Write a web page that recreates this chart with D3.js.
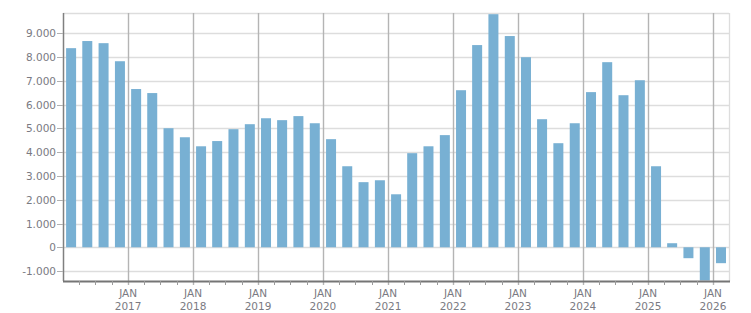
<!DOCTYPE html>
<html>
<head>
<meta charset="utf-8">
<script src="https://cdn.jsdelivr.net/npm/d3@7"></script>
<style>
  html, body { margin: 0; padding: 0; background: #fff; }
  svg { display: block; font-family: "DejaVu Sans", Verdana, sans-serif; }
</style>
</head>
<body>
<svg id="chart" width="751" height="313"></svg>
<script>
// quarterly bars, Q1 2016 .. Q1 2026
const quarters = [
  '2016-01', '2016-04', '2016-07', '2016-10',
  '2017-01', '2017-04', '2017-07', '2017-10',
  '2018-01', '2018-04', '2018-07', '2018-10',
  '2019-01', '2019-04', '2019-07', '2019-10',
  '2020-01', '2020-04', '2020-07', '2020-10',
  '2021-01', '2021-04', '2021-07', '2021-10',
  '2022-01', '2022-04', '2022-07', '2022-10',
  '2023-01', '2023-04', '2023-07', '2023-10',
  '2024-01', '2024-04', '2024-07', '2024-10',
  '2025-01', '2025-04', '2025-07', '2025-10',
  '2026-01'
];
const values = [
  8380, 8680, 8590, 7830,
  6660, 6490, 5010, 4630,
  4250, 4470, 4970, 5180,
  5430, 5350, 5520, 5220,
  4550, 3410, 2740, 2820,
  2230, 3960, 4250, 4720,
  6610, 8510, 9810, 8890,
  8000, 5390, 4380, 5220,
  6530, 7790, 6400, 7030,
  3410, 170, -460, -1400,
  -670
];
const yTicks = [-1000, 0, 1000, 2000, 3000, 4000, 5000, 6000, 7000, 8000, 9000];
const yearTicks = [2017, 2018, 2019, 2020, 2021, 2022, 2023, 2024, 2025, 2026];
const xLabelTop = 'JAN';

(function() {
    const svg = d3.select('#chart');
    const margin = { top: 13, right: 22, bottom: 32, left: 63 };
    const width = 751, height = 313;
    const x0 = margin.left, x1 = width - margin.right;
    const y0 = margin.top, y1 = height - margin.bottom;

    const parse = d3.timeParse('%Y-%m');
    const xScale = d3.scaleTime()
        .domain([new Date(2016, 0, 1), new Date(2026, 3, 1)])
        .range([x0, x1]);
    const yScale = d3.scaleLinear()
        .domain([-1420, 9860])
        .range([y1, y0]);

    const locale = d3.formatLocale({ decimal: ',', thousands: '.', grouping: [3], currency: ['', ''], minus: '-' });
    const fmt = locale.format(',');

    const labelColor = '#7a7a82';

    // horizontal grid
    svg.append('g')
        .selectAll('line')
        .data(yTicks)
        .enter().append('line')
        .attr('x1', x0).attr('x2', x1)
        .attr('y1', d => Math.round(yScale(d)) + 0.5)
        .attr('y2', d => Math.round(yScale(d)) + 0.5)
        .attr('stroke', '#dddddd')
        .attr('stroke-width', 1.3);

    // top and right border
    svg.append('line')
        .attr('x1', x0).attr('x2', x1)
        .attr('y1', y0 + 0.5).attr('y2', y0 + 0.5)
        .attr('stroke', '#dddddd').attr('stroke-width', 1.3);
    svg.append('line')
        .attr('x1', x1 + 0.5).attr('x2', x1 + 0.5)
        .attr('y1', y0).attr('y2', y1)
        .attr('stroke', '#dddddd').attr('stroke-width', 1.3);

    // vertical year lines
    svg.append('g')
        .selectAll('line')
        .data(yearTicks)
        .enter().append('line')
        .attr('x1', d => Math.round(xScale(new Date(d, 0, 1))) + 0.5)
        .attr('x2', d => Math.round(xScale(new Date(d, 0, 1))) + 0.5)
        .attr('y1', y0).attr('y2', y1 + 4)
        .attr('stroke', '#b4b4b4')
        .attr('stroke-width', 1.4);

    // bars
    svg.append('g')
        .selectAll('rect')
        .data(quarters.map((q, i) => ({ q: parse(q), v: values[i] })))
        .enter().append('rect')
        .attr('x', d => {
            const next = d3.timeMonth.offset(d.q, 3);
            return (xScale(d.q) + xScale(next)) / 2 - 5;
        })
        .attr('width', 10)
        .attr('y', d => yScale(Math.max(0, d.v)))
        .attr('height', d => Math.abs(yScale(d.v) - yScale(0)))
        .attr('fill', '#78b0d3');

    // left axis
    svg.append('line')
        .attr('x1', x0 + 0.5).attr('x2', x0 + 0.5)
        .attr('y1', y0).attr('y2', y1)
        .attr('stroke', '#808080').attr('stroke-width', 1.5);
    const yt = svg.append('g');
    yt.selectAll('line')
        .data(yTicks)
        .enter().append('line')
        .attr('x1', x0 - 6).attr('x2', x0)
        .attr('y1', d => Math.round(yScale(d)) + 0.5)
        .attr('y2', d => Math.round(yScale(d)) + 0.5)
        .attr('stroke', '#b0b0b0');
    yt.selectAll('text')
        .data(yTicks)
        .enter().append('text')
        .attr('x', x0 - 7)
        .attr('y', d => yScale(d) + 4)
        .attr('text-anchor', 'end')
        .attr('font-size', '10.5px')
        .attr('fill', labelColor)
        .text(d => fmt(d));

    // bottom axis
    svg.append('line')
        .attr('x1', x0).attr('x2', x1 + 1)
        .attr('y1', y1 + 0.5).attr('y2', y1 + 0.5)
        .attr('stroke', '#757575').attr('stroke-width', 2.2);

    const minor = d3.timeMonth.every(3).range(new Date(2016, 3, 1), new Date(2026, 3, 1))
        .filter(d => d.getMonth() !== 0);
    svg.append('g')
        .selectAll('line')
        .data(minor)
        .enter().append('line')
        .attr('x1', d => Math.round(xScale(d)) + 0.5)
        .attr('x2', d => Math.round(xScale(d)) + 0.5)
        .attr('y1', y1).attr('y2', y1 + 4)
        .attr('stroke', '#9a9a9a');

    const xl = svg.append('g');
    xl.selectAll('text.m')
        .data(yearTicks)
        .enter().append('text')
        .attr('class', 'm')
        .attr('x', d => xScale(new Date(d, 0, 1)))
        .attr('y', 297)
        .attr('text-anchor', 'middle')
        .attr('font-size', '10.5px')
        .attr('fill', labelColor)
        .text(xLabelTop);
    xl.selectAll('text.y')
        .data(yearTicks)
        .enter().append('text')
        .attr('class', 'y')
        .attr('x', d => xScale(new Date(d, 0, 1)))
        .attr('y', 310)
        .attr('text-anchor', 'middle')
        .attr('font-size', '10.5px')
        .attr('fill', labelColor)
        .text(d => d);
})();
</script>
</body>
</html>
